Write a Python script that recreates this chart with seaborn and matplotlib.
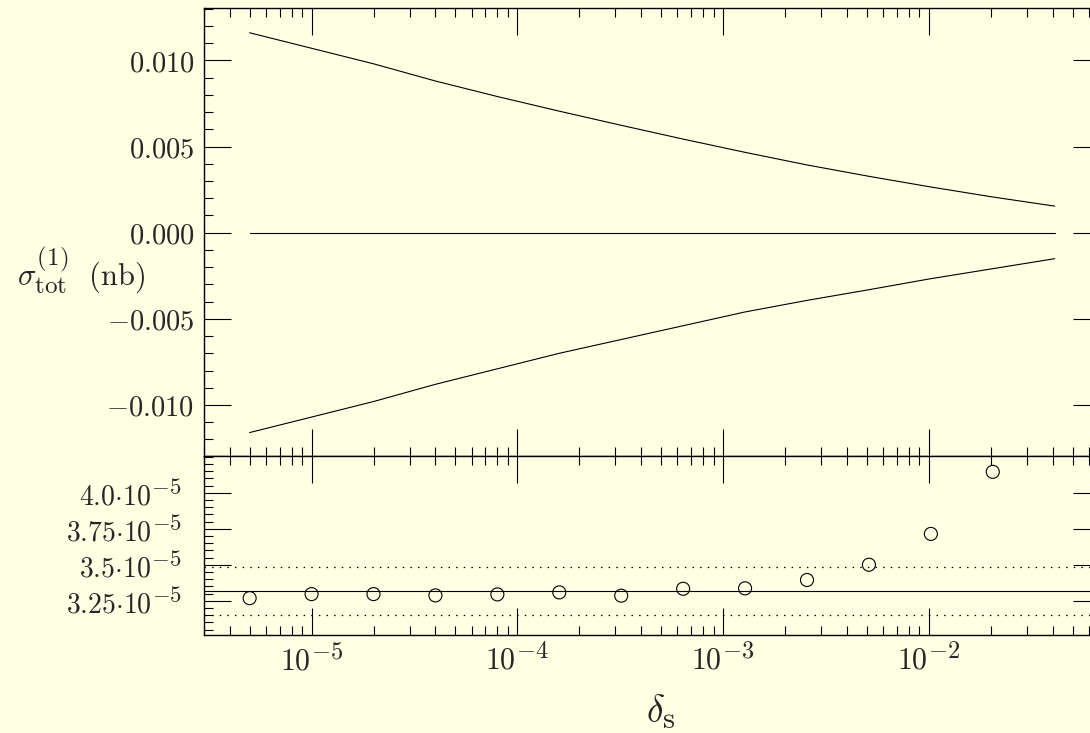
import matplotlib
matplotlib.use("Agg")
import matplotlib.pyplot as plt
import matplotlib.ticker as mticker
import matplotlib._mathtext as mathtext_impl
import seaborn as sns

# ---------------------------
# DATA
# ---------------------------
# delta_s grid, each step doubles
delta_s = [5.0e-6, 1.0e-5, 2.0e-5, 4.0e-5, 8.0e-5, 1.6e-4, 3.2e-4,
           6.4e-4, 1.28e-3, 2.56e-3, 5.12e-3, 1.024e-2, 2.048e-2, 4.096e-2]

# upper panel: two pieces of sigma^(1) that cancel, and their sum
sigma_upper = [0.0116, 0.0107, 0.0098, 0.0088, 0.0079, 0.00705, 0.00623,
               0.00543, 0.00466, 0.00393, 0.00327, 0.00265, 0.00207, 0.00154]
sigma_lower = [-0.0116, -0.0107, -0.0098, -0.0088, -0.0079, -0.0070, -0.0062,
               -0.0054, -0.0046, -0.00393, -0.00331, -0.00267, -0.00209, -0.00151]
sigma_sum = [0.0, 0.0, 0.0, 0.0, 0.0, 0.0, 0.0,
             0.0, 0.0, 0.0, 0.0, 0.0, 0.0, 0.0]

# lower panel: zoom on the sum (nb)
delta_pts = [5.0e-6, 1.0e-5, 2.0e-5, 4.0e-5, 8.0e-5, 1.6e-4, 3.2e-4,
             6.4e-4, 1.28e-3, 2.56e-3, 5.12e-3, 1.024e-2, 2.048e-2]
sigma_pts = [3.268e-5, 3.296e-5, 3.296e-5, 3.287e-5, 3.294e-5, 3.308e-5, 3.285e-5,
             3.333e-5, 3.336e-5, 3.394e-5, 3.500e-5, 3.714e-5, 4.145e-5]
band_center = 3.317e-5
band_low = 3.152e-5
band_high = 3.484e-5

top_yticks = [-0.010, -0.005, 0.0, 0.005, 0.010]
top_yticklabels = [r"$-0.010$", r"$-0.005$", r"$0.000$", r"$0.005$", r"$0.010$"]
bot_yticks = [3.25e-5, 3.5e-5, 3.75e-5, 4.0e-5]
bot_yticklabels = [r"$3.25{\cdot}10^{-5}$", r"$3.5{\cdot}10^{-5}$",
                   r"$3.75{\cdot}10^{-5}$", r"$4.0{\cdot}10^{-5}$"]
xticks = [1e-5, 1e-4, 1e-3, 1e-2]
xticklabels = [r"$10^{-5}$", r"$10^{-4}$", r"$10^{-3}$", r"$10^{-2}$"]

# ---------------------------
# STYLE
# ---------------------------
BG = "#ffffe4"
sns.set_style("ticks", {"axes.facecolor": BG, "figure.facecolor": BG})
plt.rcParams["mathtext.fontset"] = "cm"
plt.rcParams["axes.linewidth"] = 1.0
# the original uses big exponents / subscripts
mathtext_impl.SHRINK_FACTOR = 0.82

fig = plt.figure(figsize=(10.9, 7.33), dpi=100)
ax1 = fig.add_axes([0.18716, 0.37790, 0.82202, 0.61078])
ax2 = fig.add_axes([0.18716, 0.13370, 0.82202, 0.24420])

# upper panel
for ys in (sigma_upper, sigma_sum, sigma_lower):
    sns.lineplot(x=delta_s, y=ys, ax=ax1, color="black", lw=0.8,
                 estimator=None, sort=False)

# lower panel
ax2.axhline(band_center, color="black", lw=0.8)
for yb in (band_low, band_high):
    ax2.axhline(yb, color="black", lw=0.9, dashes=(1.2, 4.9))
sns.scatterplot(x=delta_pts, y=sigma_pts, ax=ax2, marker="o", s=88,
                color="black", linewidth=0.8, zorder=3)
pts = ax2.collections[-1]
pts.set_facecolor("none")
pts.set_edgecolor("black")

for ax in (ax1, ax2):
    ax.set_xscale("log")
    ax.set_xlim(3e-6, 0.068)
    ax.xaxis.set_major_locator(mticker.FixedLocator(xticks))
    ax.xaxis.set_minor_locator(mticker.LogLocator(base=10, subs=range(2, 10), numticks=30))
    ax.tick_params(which="both", direction="in", top=True, right=True,
                   width=0.8, color="black")
    ax.tick_params(which="major", length=19.5)
    ax.tick_params(which="minor", length=6.5)
    for sp in ax.spines.values():
        sp.set_visible(True)
        sp.set_color("black")

ax1.set_ylim(-0.01296, 0.01302)
ax1.yaxis.set_major_locator(mticker.FixedLocator(top_yticks))
ax1.yaxis.set_major_formatter(mticker.FixedFormatter(top_yticklabels))
ax1.yaxis.set_minor_locator(mticker.MultipleLocator(0.001))
ax1.tick_params(axis="x", labelbottom=False)
ax1.tick_params(axis="y", labelsize=20.5, pad=7)

ax2.set_ylim(3.012e-5, 4.255e-5)
ax2.yaxis.set_major_locator(mticker.FixedLocator(bot_yticks))
ax2.yaxis.set_major_formatter(mticker.FixedFormatter(bot_yticklabels))
ax2.yaxis.set_minor_locator(mticker.MultipleLocator(0.05e-5))
ax2.xaxis.set_major_formatter(mticker.FixedFormatter(xticklabels))
ax2.xaxis.set_minor_formatter(mticker.NullFormatter())
ax2.tick_params(axis="y", labelsize=20, pad=16)
ax2.tick_params(axis="x", labelsize=21.5, pad=6)

ax1.set_ylabel(r"$\sigma^{(1)}_{\rm tot}\ \ ({\rm nb})$", fontsize=22,
               rotation=0, ha="center", va="center")
ax1.yaxis.set_label_coords(-0.1373, 0.4155)
ax2.set_xlabel(r"$\delta_{\rm s}$", fontsize=27, va="center")
ax2.xaxis.set_label_coords(0.510, -0.43)

fig.savefig("out.png", dpi=100, facecolor=BG)
